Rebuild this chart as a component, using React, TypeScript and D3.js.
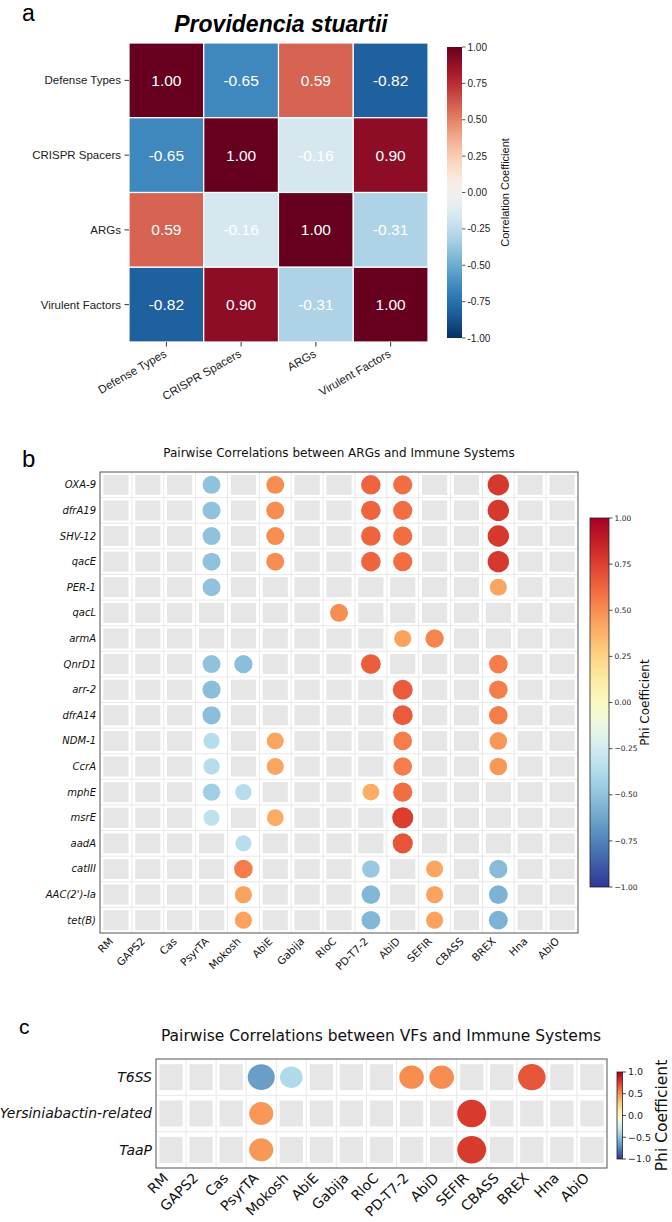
import React from 'react';
import * as d3 from 'd3';

// ---- Panel a: correlation matrix ----
const corrLabels = ['Defense Types', 'CRISPR Spacers', 'ARGs', 'Virulent Factors'];
const corrRowDefense = [1.0, -0.65, 0.59, -0.82];
const corrRowCrispr = [-0.65, 1.0, -0.16, 0.9];
const corrRowArgs = [0.59, -0.16, 1.0, -0.31];
const corrRowVirulent = [-0.82, 0.9, -0.31, 1.0];
const corrMatrix = [corrRowDefense, corrRowCrispr, corrRowArgs, corrRowVirulent];
const corrTicks = [1, 0.75, 0.5, 0.25, 0, -0.25, -0.5, -0.75, -1];

// ---- Panels b & c: immune systems on x ----
const immuneSystems = ['RM', 'GAPS2', 'Cas', 'PsyrTA', 'Mokosh', 'AbiE', 'Gabija', 'RloC', 'PD-T7-2', 'AbiD', 'SEFIR', 'CBASS', 'BREX', 'Hna', 'AbiO'];

const argGenes = ['OXA-9', 'dfrA19', 'SHV-12', 'qacE', 'PER-1', 'qacL', 'armA', 'QnrD1', 'arr-2', 'dfrA14', 'NDM-1', 'CcrA', 'mphE', 'msrE', 'aadA', 'catIII', "AAC(2')-Ia", 'tet(B)'];

// [gene, immune system, phi]
const argPhi: [string, string, number][] = [
  ['OXA-9', 'PsyrTA', -0.5], ['OXA-9', 'AbiE', 0.5], ['OXA-9', 'PD-T7-2', 0.63], ['OXA-9', 'AbiD', 0.6], ['OXA-9', 'BREX', 0.78],
  ['dfrA19', 'PsyrTA', -0.5], ['dfrA19', 'AbiE', 0.5], ['dfrA19', 'PD-T7-2', 0.63], ['dfrA19', 'AbiD', 0.6], ['dfrA19', 'BREX', 0.78],
  ['SHV-12', 'PsyrTA', -0.5], ['SHV-12', 'AbiE', 0.5], ['SHV-12', 'PD-T7-2', 0.63], ['SHV-12', 'AbiD', 0.6], ['SHV-12', 'BREX', 0.78],
  ['qacE', 'PsyrTA', -0.5], ['qacE', 'AbiE', 0.5], ['qacE', 'PD-T7-2', 0.63], ['qacE', 'AbiD', 0.6], ['qacE', 'BREX', 0.78],
  ['PER-1', 'PsyrTA', -0.5], ['PER-1', 'BREX', 0.42],
  ['qacL', 'RloC', 0.5],
  ['armA', 'AbiD', 0.43], ['armA', 'SEFIR', 0.53],
  ['QnrD1', 'PsyrTA', -0.5], ['QnrD1', 'Mokosh', -0.52], ['QnrD1', 'PD-T7-2', 0.65], ['QnrD1', 'BREX', 0.55],
  ['arr-2', 'PsyrTA', -0.52], ['arr-2', 'AbiD', 0.66], ['arr-2', 'BREX', 0.55],
  ['dfrA14', 'PsyrTA', -0.52], ['dfrA14', 'AbiD', 0.66], ['dfrA14', 'BREX', 0.55],
  ['NDM-1', 'PsyrTA', -0.36], ['NDM-1', 'AbiE', 0.42], ['NDM-1', 'AbiD', 0.55], ['NDM-1', 'BREX', 0.47],
  ['CcrA', 'PsyrTA', -0.36], ['CcrA', 'AbiE', 0.42], ['CcrA', 'AbiD', 0.55], ['CcrA', 'BREX', 0.47],
  ['mphE', 'PsyrTA', -0.44], ['mphE', 'Mokosh', -0.36], ['mphE', 'PD-T7-2', 0.4], ['mphE', 'AbiD', 0.6],
  ['msrE', 'PsyrTA', -0.33], ['msrE', 'AbiE', 0.4], ['msrE', 'AbiD', 0.76],
  ['aadA', 'Mokosh', -0.35], ['aadA', 'AbiD', 0.68],
  ['catIII', 'Mokosh', 0.55], ['catIII', 'PD-T7-2', -0.47], ['catIII', 'SEFIR', 0.42], ['catIII', 'BREX', -0.53],
  ["AAC(2')-Ia", 'Mokosh', 0.43], ["AAC(2')-Ia", 'PD-T7-2', -0.55], ["AAC(2')-Ia", 'SEFIR', 0.43], ["AAC(2')-Ia", 'BREX', -0.57],
  ['tet(B)', 'Mokosh', 0.43], ['tet(B)', 'PD-T7-2', -0.55], ['tet(B)', 'SEFIR', 0.43], ['tet(B)', 'BREX', -0.57],
];

const vfNames = ['T6SS', 'Yersiniabactin-related', 'TaaP'];
const vfPhi: [string, string, number][] = [
  ['T6SS', 'PsyrTA', -0.65], ['T6SS', 'Mokosh', -0.38], ['T6SS', 'PD-T7-2', 0.5], ['T6SS', 'AbiD', 0.5], ['T6SS', 'BREX', 0.68],
  ['Yersiniabactin-related', 'PsyrTA', 0.47], ['Yersiniabactin-related', 'SEFIR', 0.77],
  ['TaaP', 'PsyrTA', 0.47], ['TaaP', 'SEFIR', 0.77],
];

const phiTicksB = [1, 0.75, 0.5, 0.25, 0, -0.25, -0.5, -0.75, -1];
const phiTicksC = [1, 0.5, 0, -0.5, -1];

const ARIAL = "'Liberation Sans', Arial, sans-serif";
const DEJAVU = "'DejaVu Sans', sans-serif";

const corrColor = (v: number) => d3.interpolateRdBu((1 - v) / 2);
const phiColor = (v: number) => d3.interpolateRdYlBu((1 - v) / 2);

function Gradient({ id, color }: { id: string; color: (v: number) => string }) {
  const stops = d3.range(0, 1.0001, 0.025);
  return (
    <linearGradient id={id} x1="0" y1="1" x2="0" y2="0">
      {stops.map((t) => (
        <stop key={t} offset={t} stopColor={color(t * 2 - 1)} />
      ))}
    </linearGradient>
  );
}

type CbProps = {
  grad: string;
  x: number;
  w: number;
  y0: number;
  y1: number;
  ticks: number[];
  fmt: (v: number) => string;
  font: string;
  fontSize: number;
  tickColor: string;
  outline: boolean;
  label: string;
  labelX: number;
  labelY?: number;
  labelSize: number;
};

function Colorbar(p: CbProps) {
  const y = d3.scaleLinear().domain([-1, 1]).range([p.y1, p.y0]);
  const ly = p.labelY ?? (p.y0 + p.y1) / 2;
  return (
    <g>
      <rect x={p.x} y={p.y0} width={p.w} height={p.y1 - p.y0} fill={`url(#${p.grad})`}
        stroke={p.outline ? '#222' : 'none'} strokeWidth={0.8} />
      {p.ticks.map((t) => (
        <g key={t}>
          <line x1={p.x + p.w} x2={p.x + p.w + 3.5} y1={y(t)} y2={y(t)} stroke={p.tickColor} strokeWidth={0.8} />
          <text x={p.x + p.w + 5.5} y={y(t)} dy="0.35em" fontFamily={p.font} fontSize={p.fontSize} fill="#222">
            {p.fmt(t)}
          </text>
        </g>
      ))}
      <text transform={`translate(${p.labelX},${ly}) rotate(-90)`} textAnchor="middle"
        fontFamily={p.font} fontSize={p.labelSize} fill="#111">
        {p.label}
      </text>
    </g>
  );
}

function CorrPanel() {
  const x0 = 129, x1 = 428, y0 = 43, y1 = 342;
  const xs = d3.scaleBand().domain(corrLabels).range([x0, x1]);
  const ys = d3.scaleBand().domain(corrLabels).range([y0, y1]);
  const bw = xs.bandwidth();
  const bh = ys.bandwidth();
  return (
    <g>
      <text x={22} y={21} fontFamily={ARIAL} fontSize={23} fill="#000">a</text>
      <text x={281} y={32} textAnchor="middle" fontFamily={ARIAL} fontSize={23} fontWeight="bold" fontStyle="italic" fill="#000">
        Providencia stuartii
      </text>
      {corrMatrix.map((row, i) =>
        row.map((v, j) => (
          <g key={`${i}-${j}`}>
            <rect x={xs(corrLabels[j])!} y={ys(corrLabels[i])!} width={bw} height={bh}
              fill={corrColor(v)} stroke="#fff" strokeWidth={1.2} />
            <text x={xs(corrLabels[j])! + bw / 2} y={ys(corrLabels[i])! + bh / 2} dy="0.36em"
              textAnchor="middle" fontFamily={ARIAL} fontSize={15.5} fill="#fff">
              {v.toFixed(2)}
            </text>
          </g>
        ))
      )}
      {corrLabels.map((l) => (
        <g key={l}>
          <line x1={124.5} x2={129} y1={ys(l)! + bh / 2} y2={ys(l)! + bh / 2} stroke="#333" strokeWidth={1} />
          <text x={121} y={ys(l)! + bh / 2} dy="0.35em" textAnchor="end" fontFamily={ARIAL} fontSize={11.5} fill="#222">
            {l}
          </text>
          <line x1={xs(l)! + bw / 2} x2={xs(l)! + bw / 2} y1={342} y2={346.5} stroke="#333" strokeWidth={1} />
          <text transform={`translate(${xs(l)! + bw / 2 + 1},${356}) rotate(-30)`} textAnchor="end"
            fontFamily={ARIAL} fontSize={11.5} fill="#222">
            {l}
          </text>
        </g>
      ))}
      <Colorbar grad="gradCorr" x={447} w={15} y0={47} y1={338} ticks={corrTicks}
        fmt={(v) => v.toFixed(2)} font={ARIAL} fontSize={10} tickColor="#333" outline={false}
        label="Correlation Coefficient" labelX={509} labelSize={11} />
    </g>
  );
}

type DotProps = {
  letter: string;
  letterX: number;
  letterY: number;
  letterSize: number;
  title: string;
  titleX: number;
  titleY: number;
  titleSize: number;
  rows: string[];
  data: [string, string, number][];
  x0: number;
  x1: number;
  y0: number;
  y1: number;
  sqW: number;
  sqH: number;
  radius: (a: number) => number;
  aspect: number;
  yLabelSize: number;
  xLabelSize: number;
  xLabelDx: number;
  xLabelDy: number;
  cb: CbProps;
};

function DotPanel(p: DotProps) {
  const xs = d3.scaleBand().domain(immuneSystems).range([p.x0, p.x1]);
  const ys = d3.scaleBand().domain(p.rows).range([p.y0, p.y1]);
  const bw = xs.bandwidth();
  const bh = ys.bandwidth();
  const filled = new Set(p.data.map((d) => `${d[0]}|${d[1]}`));
  return (
    <g>
      <text x={p.letterX} y={p.letterY} fontFamily={ARIAL} fontSize={p.letterSize} fill="#000">{p.letter}</text>
      <text x={p.titleX} y={p.titleY} textAnchor="middle" fontFamily={DEJAVU} fontSize={p.titleSize} fill="#111">
        {p.title}
      </text>
      <rect x={p.x0} y={p.y0} width={p.x1 - p.x0} height={p.y1 - p.y0} fill="#fff" />
      {/* faint cell grid */}
      {immuneSystems.slice(1).map((c) => (
        <line key={`gx-${c}`} x1={xs(c)!} x2={xs(c)!} y1={p.y0} y2={p.y1} stroke="#e3e3e3" strokeWidth={0.8} />
      ))}
      {p.rows.slice(1).map((r) => (
        <line key={`gy-${r}`} x1={p.x0} x2={p.x1} y1={ys(r)!} y2={ys(r)!} stroke="#e3e3e3" strokeWidth={0.8} />
      ))}
      {/* empty cells */}
      {p.rows.map((r) =>
        immuneSystems.map((c) =>
          filled.has(`${r}|${c}`) ? null : (
            <rect key={`sq-${r}-${c}`} x={xs(c)! + (bw - p.sqW) / 2} y={ys(r)! + (bh - p.sqH) / 2}
              width={p.sqW} height={p.sqH} fill="#e6e6e6" />
          )
        )
      )}
      {p.data.map(([r, c, v]) => {
        const rr = p.radius(Math.abs(v));
        return (
          <ellipse key={`dot-${r}-${c}`} cx={xs(c)! + bw / 2} cy={ys(r)! + bh / 2}
            rx={rr * p.aspect} ry={rr} fill={phiColor(v)} />
        );
      })}
      <rect x={p.x0} y={p.y0} width={p.x1 - p.x0} height={p.y1 - p.y0} fill="none" stroke="#555" strokeWidth={1} />
      {p.rows.map((r) => (
        <text key={`yl-${r}`} x={p.x0 - 4} y={ys(r)! + bh / 2} dy="0.35em" textAnchor="end"
          fontFamily={DEJAVU} fontStyle="italic" fontSize={p.yLabelSize} fill="#111">
          {r}
        </text>
      ))}
      {immuneSystems.map((c) => (
        <text key={`xl-${c}`} transform={`translate(${xs(c)! + bw / 2 + p.xLabelDx},${p.y1 + p.xLabelDy}) rotate(-45)`}
          textAnchor="end" fontFamily={DEJAVU} fontSize={p.xLabelSize} fill="#111">
          {c}
        </text>
      ))}
      <Colorbar {...p.cb} />
    </g>
  );
}

const fmtMinus = (digits: number) => (v: number) => {
  const s = Math.abs(v).toFixed(digits);
  return v < 0 ? `\u2212${s}` : s;
};

export default function App() {
  return (
    <svg width={672} height={1222} viewBox="0 0 672 1222"
      style={{ position: 'absolute', left: 0, top: 0, background: '#fff' }}>
      <defs>
        <Gradient id="gradCorr" color={corrColor} />
        <Gradient id="gradPhi" color={phiColor} />
      </defs>
      <rect width={672} height={1222} fill="#fff" />
      <CorrPanel />
      <DotPanel
        letter="b" letterX={22} letterY={467} letterSize={24}
        title="Pairwise Correlations between ARGs and Immune Systems" titleX={339} titleY={457} titleSize={12}
        rows={argGenes} data={argPhi}
        x0={100} x1={578} y0={472} y1={933}
        sqW={25.2} sqH={20} radius={d3.scaleLinear().domain([0, 1]).range([6, 12])} aspect={1}
        yLabelSize={10} xLabelSize={10.5} xLabelDx={-2} xLabelDy={9}
        cb={{
          grad: 'gradPhi', x: 590, w: 19, y0: 518, y1: 887, ticks: phiTicksB, fmt: fmtMinus(2),
          font: DEJAVU, fontSize: 7.5, tickColor: '#222', outline: true,
          label: 'Phi Coefficient', labelX: 649, labelSize: 12,
        }}
      />
      <DotPanel
        letter="c" letterX={19} letterY={1034} letterSize={21}
        title="Pairwise Correlations between VFs and Immune Systems" titleX={381} titleY={1041} titleSize={15.5}
        rows={vfNames} data={vfPhi}
        x0={156} x1={607} y0={1059} y1={1168}
        sqW={23.3} sqH={26} radius={d3.scaleLinear().domain([0, 1]).range([7.9, 15.5])} aspect={1.05}
        yLabelSize={14} xLabelSize={14} xLabelDx={-2} xLabelDy={11}
        cb={{
          grad: 'gradPhi', x: 617, w: 5.5, y0: 1072, y1: 1159, ticks: phiTicksC, fmt: fmtMinus(1),
          font: DEJAVU, fontSize: 9.5, tickColor: '#222', outline: true,
          label: 'Phi Coefficient', labelX: 667, labelSize: 15.5,
        }}
      />
    </svg>
  );
}
